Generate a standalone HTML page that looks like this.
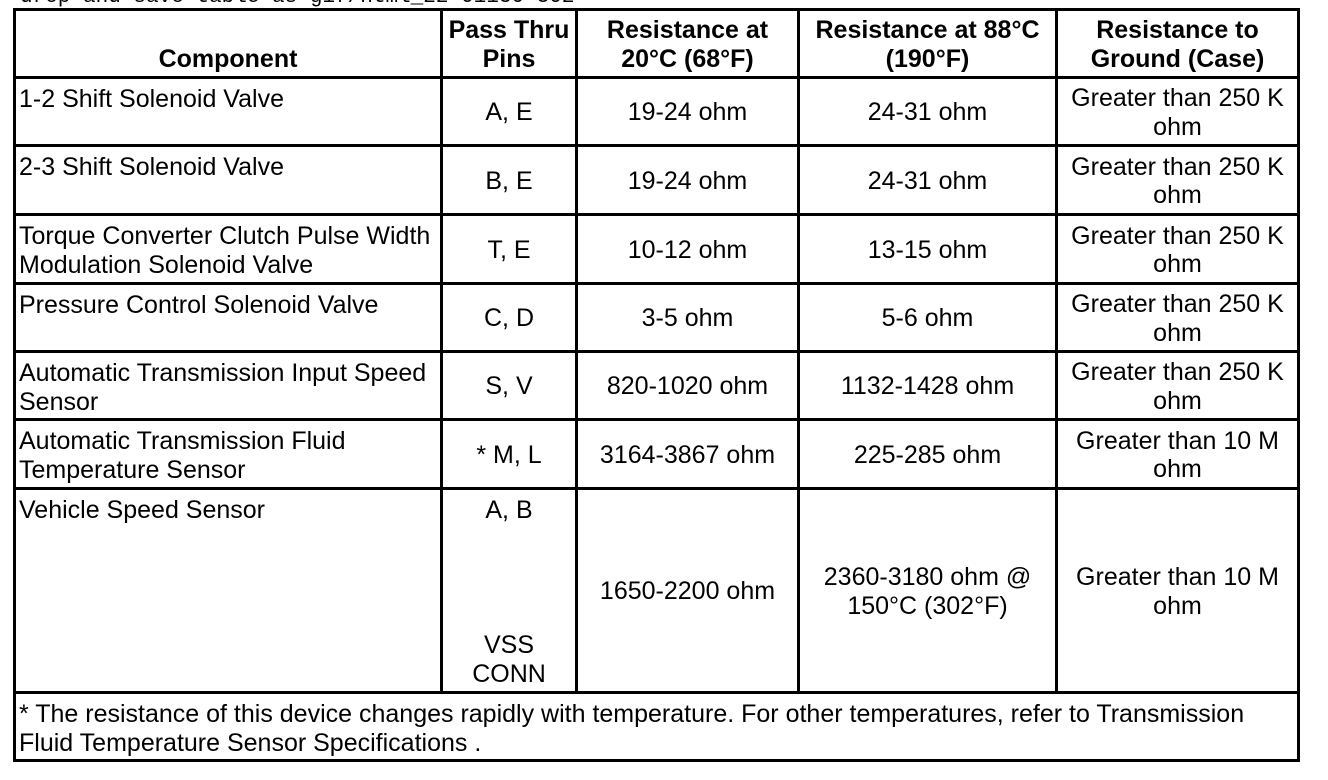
<!DOCTYPE html>
<html>
<head>
<meta charset="utf-8">
<style>
  html, body { margin:0; padding:0; background:#fff; }
  body { width:1328px; height:780px; position:relative; overflow:hidden;
         font-family:"Liberation Sans", Arial, sans-serif; font-size:25px; line-height:28.5px; color:#000; }
  .ln { position:absolute; background:#000; }
  .c { position:absolute; display:flex; flex-direction:column; justify-content:center; align-items:center;
       text-align:center; white-space:nowrap; box-sizing:border-box; }
  .t { justify-content:flex-start; align-items:flex-start; text-align:left; padding:6px 3px 3px 3px; }
  .h { justify-content:flex-end; font-weight:bold; padding-bottom:3px; }
  .top { position:absolute; left:20px; top:-13px; font-family:"Liberation Mono", monospace; font-size:21px;
         line-height:21px; white-space:nowrap; color:#000; }
</style>
</head>
<body>
<div class="top">drop and save table as gif/html_22 01130-302</div>

<!-- horizontal lines -->
<div class="ln" style="left:13px;top:8px;width:1287px;height:3px"></div>
<div class="ln" style="left:13px;top:76px;width:1287px;height:3px"></div>
<div class="ln" style="left:13px;top:144px;width:1287px;height:3px"></div>
<div class="ln" style="left:13px;top:213px;width:1287px;height:3px"></div>
<div class="ln" style="left:13px;top:282px;width:1287px;height:3px"></div>
<div class="ln" style="left:13px;top:350px;width:1287px;height:3px"></div>
<div class="ln" style="left:13px;top:418px;width:1287px;height:3px"></div>
<div class="ln" style="left:13px;top:487px;width:1287px;height:3px"></div>
<div class="ln" style="left:13px;top:691px;width:1287px;height:3px"></div>
<div class="ln" style="left:13px;top:759px;width:1287px;height:3px"></div>

<!-- vertical lines -->
<div class="ln" style="left:13px;top:8px;width:3px;height:754px"></div>
<div class="ln" style="left:1297px;top:8px;width:3px;height:754px"></div>
<div class="ln" style="left:440px;top:8px;width:3px;height:686px"></div>
<div class="ln" style="left:575px;top:8px;width:3px;height:686px"></div>
<div class="ln" style="left:797px;top:8px;width:3px;height:686px"></div>
<div class="ln" style="left:1055px;top:8px;width:3px;height:686px"></div>

<!-- header -->
<div class="c h" style="left:16px;top:11px;width:424px;height:65px">Component</div>
<div class="c h" style="left:443px;top:11px;width:132px;height:65px">Pass Thru<br>Pins</div>
<div class="c h" style="left:578px;top:11px;width:219px;height:65px">Resistance at<br>20°C (68°F)</div>
<div class="c h" style="left:800px;top:11px;width:255px;height:65px">Resistance at 88°C<br>(190°F)</div>
<div class="c h" style="left:1058px;top:11px;width:239px;height:65px">Resistance to<br>Ground (Case)</div>

<!-- row 1 -->
<div class="c t" style="left:16px;top:79px;width:424px;height:65px">1-2 Shift Solenoid Valve</div>
<div class="c" style="left:443px;top:80px;width:132px;height:65px">A, E</div>
<div class="c" style="left:578px;top:80px;width:219px;height:65px">19-24 ohm</div>
<div class="c" style="left:800px;top:80px;width:255px;height:65px">24-31 ohm</div>
<div class="c" style="left:1058px;top:80px;width:239px;height:65px">Greater than 250 K<br>ohm</div>

<!-- row 2 -->
<div class="c t" style="left:16px;top:147px;width:424px;height:66px">2-3 Shift Solenoid Valve</div>
<div class="c" style="left:443px;top:148px;width:132px;height:66px">B, E</div>
<div class="c" style="left:578px;top:148px;width:219px;height:66px">19-24 ohm</div>
<div class="c" style="left:800px;top:148px;width:255px;height:66px">24-31 ohm</div>
<div class="c" style="left:1058px;top:148px;width:239px;height:66px">Greater than 250 K<br>ohm</div>

<!-- row 3 -->
<div class="c t" style="left:16px;top:216px;width:424px;height:66px">Torque Converter Clutch Pulse Width<br>Modulation Solenoid Valve</div>
<div class="c" style="left:443px;top:217px;width:132px;height:66px">T, E</div>
<div class="c" style="left:578px;top:217px;width:219px;height:66px">10-12 ohm</div>
<div class="c" style="left:800px;top:217px;width:255px;height:66px">13-15 ohm</div>
<div class="c" style="left:1058px;top:217px;width:239px;height:66px">Greater than 250 K<br>ohm</div>

<!-- row 4 -->
<div class="c t" style="left:16px;top:285px;width:424px;height:65px">Pressure Control Solenoid Valve</div>
<div class="c" style="left:443px;top:286px;width:132px;height:65px">C, D</div>
<div class="c" style="left:578px;top:286px;width:219px;height:65px">3-5 ohm</div>
<div class="c" style="left:800px;top:286px;width:255px;height:65px">5-6 ohm</div>
<div class="c" style="left:1058px;top:286px;width:239px;height:65px">Greater than 250 K<br>ohm</div>

<!-- row 5 -->
<div class="c t" style="left:16px;top:353px;width:424px;height:65px">Automatic Transmission Input Speed<br>Sensor</div>
<div class="c" style="left:443px;top:354px;width:132px;height:65px">S, V</div>
<div class="c" style="left:578px;top:354px;width:219px;height:65px">820-1020 ohm</div>
<div class="c" style="left:800px;top:354px;width:255px;height:65px">1132-1428 ohm</div>
<div class="c" style="left:1058px;top:354px;width:239px;height:65px">Greater than 250 K<br>ohm</div>

<!-- row 6 -->
<div class="c t" style="left:16px;top:421px;width:424px;height:66px">Automatic Transmission Fluid<br>Temperature Sensor</div>
<div class="c" style="left:443px;top:422px;width:132px;height:66px">* M, L</div>
<div class="c" style="left:578px;top:422px;width:219px;height:66px">3164-3867 ohm</div>
<div class="c" style="left:800px;top:422px;width:255px;height:66px">225-285 ohm</div>
<div class="c" style="left:1058px;top:422px;width:239px;height:66px">Greater than 10 M<br>ohm</div>

<!-- row 7 -->
<div class="c t" style="left:16px;top:490px;width:424px;height:201px">Vehicle Speed Sensor</div>
<div class="c" style="left:443px;top:490px;width:132px;height:201px;justify-content:space-between;padding:6px 0 3px 0">
  <div>A, B</div><div>VSS<br>CONN</div>
</div>
<div class="c" style="left:578px;top:491px;width:219px;height:201px">1650-2200 ohm</div>
<div class="c" style="left:800px;top:491px;width:255px;height:201px">2360-3180 ohm @<br>150°C (302°F)</div>
<div class="c" style="left:1058px;top:491px;width:239px;height:201px">Greater than 10 M<br>ohm</div>

<!-- footer -->
<div class="c t" style="left:16px;top:694px;width:1281px;height:65px">* The resistance of this device changes rapidly with temperature. For other temperatures, refer to Transmission<br>Fluid Temperature Sensor Specifications .</div>
</body>
</html>
